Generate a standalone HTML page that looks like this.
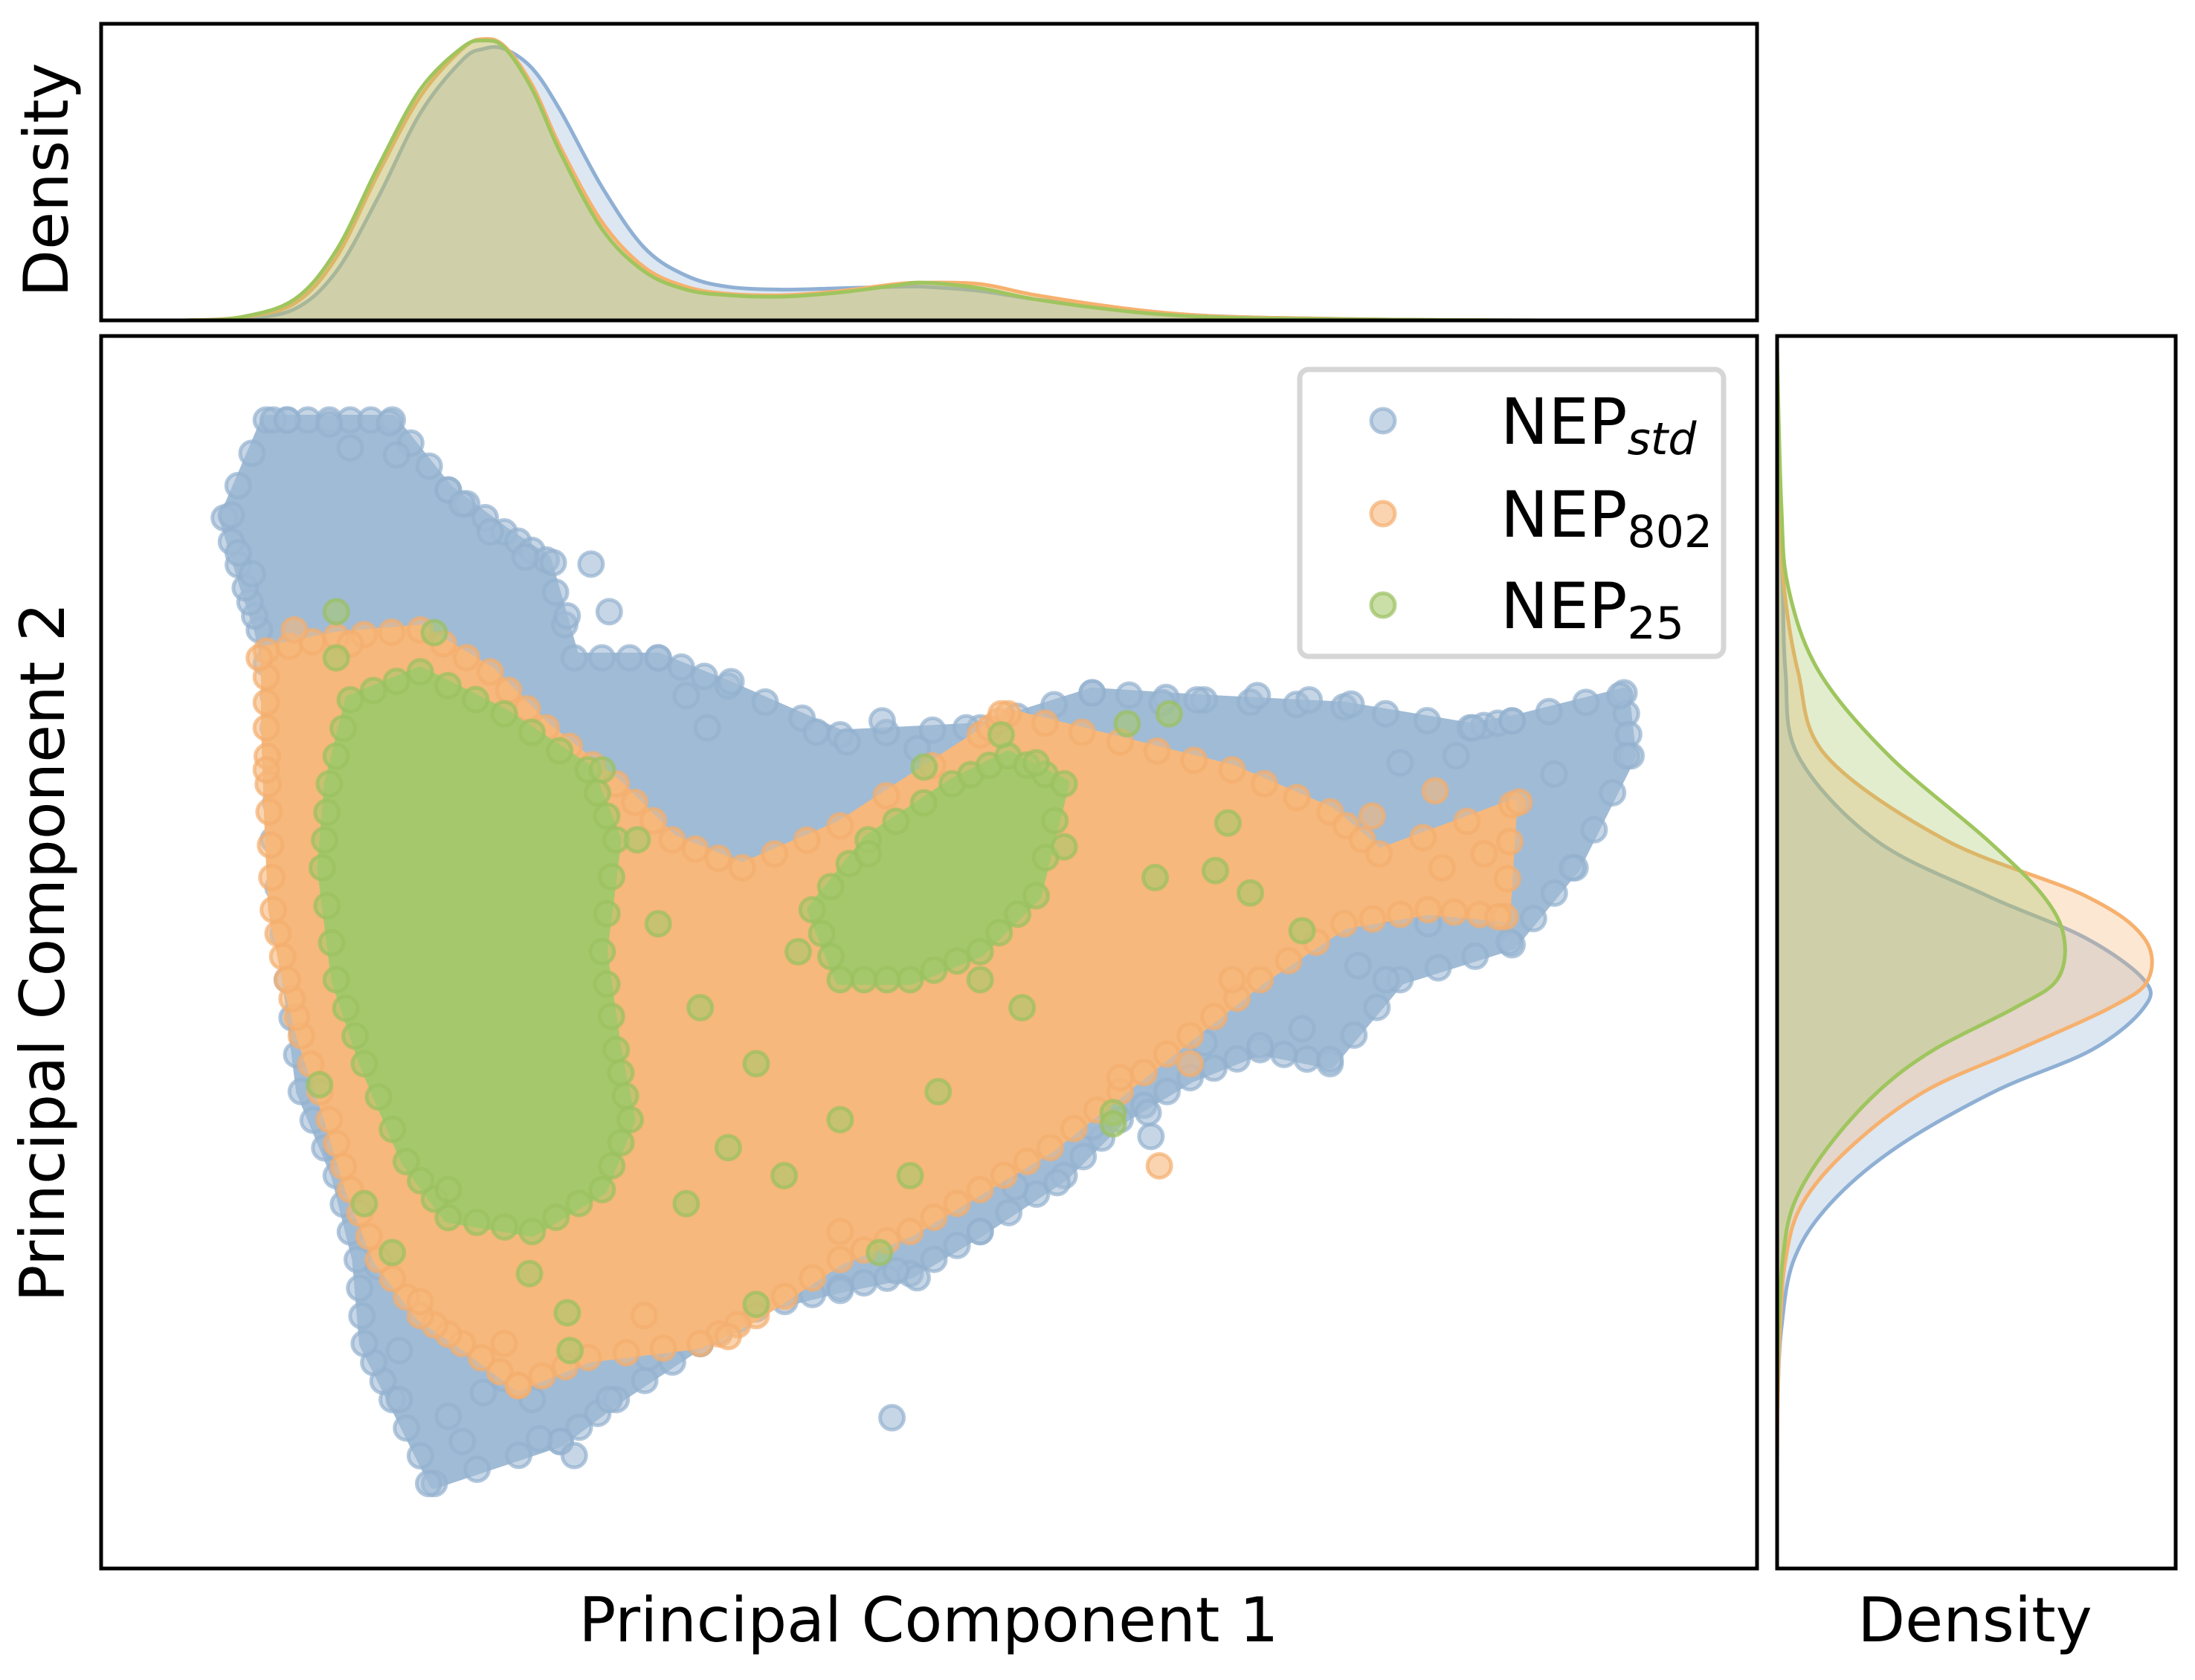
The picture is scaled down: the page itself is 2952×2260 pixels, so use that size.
<!DOCTYPE html>
<html><head><meta charset="utf-8"><style>
html,body{margin:0;padding:0;background:#fff}
svg{display:block}
text{font-family:"DejaVu Sans","Liberation Sans",sans-serif;fill:#000}
</style></head><body>
<svg id="fig" width="2952" height="2260" viewBox="0 0 2952 2260" xmlns="http://www.w3.org/2000/svg" style="position:absolute;left:0;top:0">
</svg>
<script>
// ---- data (PC units) ----
const seriesNames=["NEP_std","NEP_802","NEP_25"];
const blueHull=[[160,370],[190,300],[235,300],[280,300],[320,350],[360,380],[390,400],[410,470],[470,470],[520,490],[600,525],[700,520],[780,495],[860,500],[960,505],[1050,520],[1080,515],[1160,495],[1165,540],[1125,620],[1080,675],[1000,700],[950,760],[900,750],[850,770],[800,800],[760,840],[700,880],[650,910],[600,920],[540,935],[500,960],[440,1000],[400,1030],[310,1060],[280,1000],[260,960],[255,900],[240,840],[215,780],[205,700],[195,600],[200,520],[185,450],[175,420]];
const orangeHull=[[190,465],[240,455],[300,450],[350,480],[390,520],[440,560],[480,600],[530,620],[600,590],[700,525],[720,510],[800,530],[880,550],[950,580],[985,610],[1080,575],[1075,655],[1020,650],[960,660],[900,700],[850,740],[800,780],[750,820],[700,850],[650,880],[600,900],[540,940],[500,960],[420,970],[370,990],[330,960],[300,940],[270,900],[250,850],[235,800],[215,740],[205,700],[195,650],[192,580],[190,520]];
const greenHullA=[[250,500],[300,480],[360,510],[420,550],[440,600],[430,680],[440,750],[450,800],[430,850],[380,880],[320,870],[290,830],[260,760],[240,700],[230,620],[235,560]];
const greenHullB=[[580,650],[620,600],[680,560],[720,540],[760,560],[740,640],[700,680],[650,700],[600,700]];
const bluePts=[[195,300],[205,300],[235,303],[278,302],[283,325],[250,320],[165,368],[170,395],[180,410],[320,350],[330,360],[350,380],[375,398],[395,402],[422,403],[405,440],[435,437],[470,470],[490,497],[522,487],[505,520],[583,523],[605,530],[630,515],[655,535],[690,520],[780,495],[830,502],[855,500],[898,497],[935,500],[965,503],[1052,520],[1080,515],[1157,497],[1162,540],[1110,553],[1123,620],[1078,673],[1040,540],[1000,545],[1020,660],[990,700],[950,757],[930,735],[900,747],[860,745],[822,812],[820,795],[780,805],[755,845],[725,848],[700,880],[655,913],[640,908],[600,922],[565,870],[540,935],[500,960],[463,970],[435,1000],[400,1030],[385,1028],[330,1030],[320,1012],[306,1060],[285,1000],[285,965],[270,905],[637,1013],[345,995],[360,985],[410,1040],[215,720],[210,600],[195,520],[240,820],[380,1000],[420,960],[700,830],[850,700],[970,690],[990,650]];
const orangePts=[[185,470],[190,550],[1025,565],[1085,573],[1070,655],[1060,610],[1030,620],[980,583],[828,833],[850,760],[520,955],[370,990],[360,960],[715,510],[720,550],[250,460],[210,450],[300,930],[460,940],[600,880],[800,770],[880,700]];
const greenPts=[[240,437],[310,452],[240,470],[228,775],[280,895],[405,938],[407,965],[378,910],[540,932],[628,895],[795,795],[795,803],[805,517],[835,510],[877,588],[930,665],[893,638],[868,622],[825,627],[760,605],[740,545],[715,525],[660,548],[500,720],[520,820],[540,760],[600,800],[470,660],[570,680],[670,780],[730,720],[620,610],[455,600],[430,550],[650,840],[490,860],[560,840],[700,700],[260,860],[320,850]];
// top marginal KDE (PC1 grid, density)
const kdeXGrid=[130,170,210,240,270,300,330,345,360,380,400,430,460,490,520,560,600,640,660,700,740,800,850,900,1000,1100,1250];
const kdeTopBlue=[0,1,8,35,88,148,186,194,194,180,150,95,52,32,24,22,23,24,24,21,15,8,4,2,0.5,0,0];
const kdeTopOrange=[0,2,12,45,105,160,194,201,196,168,124,70,38,24,19,18,21,26,27,26,18,9,4,2,0.5,0,0];
const kdeTopGreen=[0,2,15,50,110,165,195,200,195,165,120,65,35,22,18,17,20,25,27,23,15,7,3,1.5,0.5,0,0];
// right marginal KDE (PC2 grid, density)
const kdeYGrid=[250,360,420,480,540,600,640,670,700,720,750,780,820,860,900,950,1000,1050,1121];
const kdeRightBlue=[0,2,4,6,15,70,150,220,262,262,225,155,85,38,12,3,0.5,0,0];
const kdeRightOrange=[0,2,5,15,35,120,220,262,265,238,172,105,52,18,6,2,0.5,0,0];
const kdeRightGreen=[0,3,8,30,80,150,190,205,200,170,112,72,36,12,4,1,0,0,0];

const NS="http://www.w3.org/2000/svg";
const svg=document.getElementById('fig');
const K=1.8825;
const xMain=v=>136+(v-72)*K;
const yMain=v=>452+(v-240)*K;
const yTop=h=>431-h*K;
const xRight=w=>2390+w*K;
function mk(tag,attrs,parent){const e=document.createElementNS(NS,tag);for(const k in attrs)e.setAttribute(k,attrs[k]);(parent||svg).appendChild(e);return e;}
function smooth(pts){
  let d='M'+pts[0][0].toFixed(1)+','+pts[0][1].toFixed(1);
  for(let i=0;i<pts.length-1;i++){
    const p0=pts[Math.max(0,i-1)],p1=pts[i],p2=pts[i+1],p3=pts[Math.min(pts.length-1,i+2)];
    const c1=[p1[0]+(p2[0]-p0[0])/6,p1[1]+(p2[1]-p0[1])/6];
    const c2=[p2[0]-(p3[0]-p1[0])/6,p2[1]-(p3[1]-p1[1])/6];
    d+='C'+c1[0].toFixed(1)+','+c1[1].toFixed(1)+' '+c2[0].toFixed(1)+','+c2[1].toFixed(1)+' '+p2[0].toFixed(1)+','+p2[1].toFixed(1);
  }
  return d;
}

const cols={b:["#a0bbd5","#93b1cf"],o:["#f6b87c","#f4ae6e"],g:["#a6c86c","#9ac060"]};

const defs=mk('defs',{});
const cp=mk('clipPath',{id:'mc'},defs);mk('rect',{x:136,y:452,width:2227,height:1658},cp);
const cpT=mk('clipPath',{id:'tc'},defs);mk('rect',{x:136,y:32,width:2227,height:399},cpT);
const cpR=mk('clipPath',{id:'rc'},defs);mk('rect',{x:2390,y:452,width:536,height:1658},cpR);

const main=mk('g',{'clip-path':'url(#mc)'});



function hull(pts,c,name){
  const d=pts.map((p,i)=>(i?'L':'M')+xMain(p[0]).toFixed(1)+','+yMain(p[1]).toFixed(1)).join('')+'Z';
  const p=mk('path',{d,fill:c[0],stroke:c[0],'stroke-width':14,'stroke-linejoin':'round'},main);
  
  
}
function dot(g,x,y,c){
  const e=mk('circle',{cx:x,cy:y,r:16,fill:c[0],'fill-opacity':0.6,stroke:c[1],'stroke-opacity':0.7,'stroke-width':5},g);
  
  
}
function dots(pts,c,name){
  const g=mk('g',{},main);
  
  
  pts.forEach(p=>dot(g,xMain(p[0]),yMain(p[1]),c));
}
function edgeDots(pts,c,name){
  const g=mk('g',{},main);
  
  
  pts.forEach((p,i)=>{
    const q=pts[(i+1)%pts.length];
    [0,0.33,0.66].forEach(t=>dot(g,xMain(p[0]+(q[0]-p[0])*t),yMain(p[1]+(q[1]-p[1])*t),c));
  });
}
hull(blueHull,cols.b,'nep-std-cloud');
edgeDots(blueHull,cols.b,'nep-std-edge-points');
dots(bluePts,cols.b,'nep-std-points');
hull(orangeHull,cols.o,'nep-802-cloud');
edgeDots(orangeHull,cols.o,'nep-802-edge-points');
dots(orangePts,cols.o,'nep-802-points');
hull(greenHullA,cols.g,'nep-25-cloud-left');
hull(greenHullB,cols.g,'nep-25-cloud-middle');
edgeDots(greenHullA,cols.g,'nep-25-edge-points');
edgeDots(greenHullB,cols.g,'nep-25-edge-points-b');
dots(greenPts,cols.g,'nep-25-points');

// top KDE
const topG=mk('g',{'clip-path':'url(#tc)'});


function topKde(vals,c,name){
  const pts=kdeXGrid.map((x,i)=>[xMain(x),yTop(vals[i])]);
  const d=smooth(pts);
  const fillD=d+'L'+xMain(kdeXGrid[kdeXGrid.length-1])+','+yTop(0)+'L'+xMain(kdeXGrid[0])+','+yTop(0)+'Z';
  const f=mk('path',{d:fillD,fill:c,'fill-opacity':0.3},topG);
  
  
  const l=mk('path',{d,fill:'none',stroke:c,'stroke-width':5,'stroke-linejoin':'round'},topG);
  
  
}
topKde(kdeTopBlue,'#8fb0d4','top-kde-std');
topKde(kdeTopOrange,'#f6b16e','top-kde-802');
topKde(kdeTopGreen,'#9fc55e','top-kde-25');

// right KDE
const rG=mk('g',{'clip-path':'url(#rc)'});


function rKde(vals,c,name){
  const pts=kdeYGrid.map((y,i)=>[xRight(vals[i]),yMain(y)]);
  const d=smooth(pts);
  const fillD=d+'L'+xRight(0)+','+yMain(kdeYGrid[kdeYGrid.length-1])+'L'+xRight(0)+','+yMain(kdeYGrid[0])+'Z';
  const f=mk('path',{d:fillD,fill:c,'fill-opacity':0.3},rG);
  
  
  const l=mk('path',{d,fill:'none',stroke:c,'stroke-width':5,'stroke-linejoin':'round'},rG);
  
  
}
rKde(kdeRightBlue,'#8fb0d4','right-kde-std');
rKde(kdeRightOrange,'#f6b16e','right-kde-802');
rKde(kdeRightGreen,'#9fc55e','right-kde-25');

// frames
[[136,452,2227,1658,'main-axes-frame'],[136,32,2227,399,'top-axes-frame'],[2390,452,536,1658,'right-axes-frame']].forEach(r=>{
  const e=mk('rect',{x:r[0],y:r[1],width:r[2],height:r[3],fill:'none',stroke:'#000','stroke-width':5});
  
  
});

// legend
const lg=mk('g',{});


const lb=mk('rect',{x:1748,y:497,width:570,height:386,rx:12,fill:'#fff','fill-opacity':0.85,stroke:'#d6d6d6','stroke-width':7},lg);


const legSubs=["std","802","25"];
const legCols=[cols.b,cols.o,cols.g];
const legY=[566,691,814];
legSubs.forEach((s,i)=>{
  const c=mk('circle',{cx:1860,cy:legY[i],r:16,fill:legCols[i][0],'fill-opacity':0.6,stroke:legCols[i][1],'stroke-opacity':0.7,'stroke-width':5},lg);
  
  
  const t=mk('text',{x:2018,y:legY[i]+31,'font-size':86},lg);
  
  
  t.textContent='NEP';
  const sp=mk('tspan',{dy:14,'font-size':60,'font-style':i===0?'italic':'normal'},t);
  sp.textContent=s;
});
</script>
<svg style="position:absolute;left:0;top:0" width="2952" height="2260" xmlns="http://www.w3.org/2000/svg">
<text x="1249" y="2208" font-size="83" text-anchor="middle">Principal Component 1</text>
<text x="2656" y="2208" font-size="83" text-anchor="middle">Density</text>
<text transform="translate(86,1281) rotate(-90)" font-size="83" text-anchor="middle">Principal Component 2</text>
<text transform="translate(91,242) rotate(-90)" font-size="83" text-anchor="middle">Density</text>
</svg>
</body></html>
